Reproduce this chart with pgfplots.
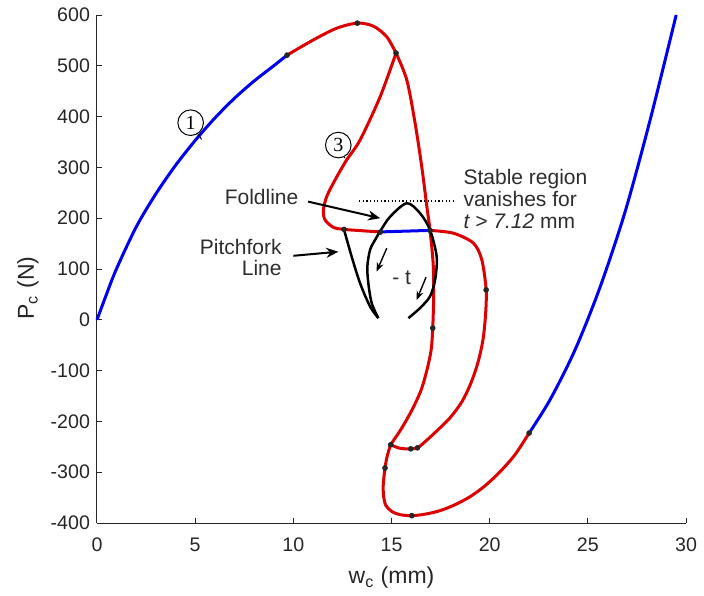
\documentclass[border=0pt]{standalone}
\usepackage{fontspec}
\setmainfont{Liberation Sans}
\newfontfamily\serifnum{Liberation Serif}
\usepackage{pgfplots}
\pgfplotsset{compat=1.18}
\usetikzlibrary{arrows.meta}
\definecolor{cred}{RGB}{220,0,0}
\definecolor{cblue}{RGB}{0,0,240}
\definecolor{axgray}{RGB}{38,38,38}
\definecolor{txtgray}{RGB}{45,45,45}
\begin{document}
\begin{tikzpicture}
\begin{axis}[
 scale only axis, width=294.5pt, height=254pt,
 xmin=0, xmax=30, ymin=-400, ymax=600,
 clip=false,
 axis x line*=bottom, axis y line*=left,
 axis line style={axgray, line width=0.5pt, -},
 tick align=inside, major tick length=2.5pt,
 tick style={axgray, line width=0.5pt},
 xtick={0,5,...,30}, xticklabels={0,5,10,15,20,25,30},
 ytick={-400,-300,...,600},
 yticklabels={-400,-300,-200,-100,0,100,200,300,400,500,600},
 ticklabel style={font=\fontsize{9.8}{11}\selectfont, text=axgray},
 xticklabel style={yshift=-4pt},
 xlabel={w\textsubscript{c} (mm)}, ylabel={P\textsubscript{c} (N)},
 label style={font=\fontsize{11.5}{13}\selectfont, text=axgray},
 xlabel style={at={(rel axis cs:0.5,-0.1083)}, anchor=center},
 ylabel style={at={(rel axis cs:-0.1171,0.4626)}, anchor=center},
]
\coordinate (SW) at (rel axis cs:0,0);
\coordinate (NE) at (rel axis cs:1,1);
% blue branch 1
\addplot[cblue, line width=1.5pt, smooth] coordinates {
(0,0) (0.5,52) (1,101) (2,183) (3,248) (4,304) (5,353) (6,397) (7,436) (8,470) (9,500) (9.68,521)};
% red top arc
\addplot[cred, line width=1.5pt, smooth] coordinates {
(9.68,521) (11.02,551) (12.21,574) (13.26,584) (14.08,578) (14.76,557) (15.23,525)};
% red steep branch and bottom loop
\addplot[cred, line width=1.5pt, smooth] coordinates {
(15.23,525) (15.78,472) (16.2,387.5) (16.54,301.5) (16.8,223) (16.96,177) (17.12,111.5) (17.15,50) (17.1,-16) (17.02,-59) (16.81,-98) (16.51,-138) (16.05,-177) (15.54,-212) (15.13,-236) (14.96,-246) (14.77,-270) (14.67,-291.7) (14.58,-324.6) (14.6,-348.2) (14.72,-365.9) (15.03,-377.7) (15.44,-383.6) (16.03,-385.5) (16.71,-382.6) (17.47,-375.7) (18.24,-363.9) (19.0,-348.2) (19.77,-326.5) (20.53,-299) (21.29,-265.5) (22.01,-222.9)};
% red branch 3
\addplot[cred, line width=1.5pt, smooth] coordinates {
(15.23,525) (14.42,439) (13.4,354) (12.72,315) (12.12,275) (11.7,242.5) (11.53,216) (11.61,197) (12.04,182) (12.58,178) (13.4,175.6) (14.42,173)};
% blue short segment
\addplot[cblue, line width=1.5pt] coordinates {(14.42,173) (16.96,176)};
% red right loop
\addplot[cred, line width=1.5pt, smooth] coordinates {
(16.96,176) (18.15,170.5) (19.17,151) (19.6,118) (19.82,59) (19.79,10) (19.66,-39) (19.41,-83) (19.05,-124) (18.59,-161) (17.98,-193) (17.27,-220) (16.71,-240) (16.32,-252) (15.98,-254) (15.44,-253) (14.96,-246)};
% blue last branch
\addplot[cblue, line width=1.5pt, smooth] coordinates {
(22.01,-222.9) (23.08,-157) (24.35,-59) (25.62,64) (26.9,213) (28.17,393) (29.5,600)};
% foldline
\addplot[black, line width=1.25pt, smooth] coordinates {
(14.33,3.3) (13.99,33) (13.82,72) (13.77,105) (13.91,138) (14.16,157) (14.42,174) (14.93,203) (15.78,229.5) (16.45,210) (16.96,177) (17.3,124.5) (17.22,78.7) (16.96,46) (16.45,23) (15.86,3.3)};
% pitchfork line
\addplot[black, line width=1.25pt, smooth] coordinates {
(12.58,178) (12.97,124.5) (13.4,72) (13.91,26) (14.33,3.3)};
% points
\addplot[only marks, mark=*, mark size=1.2pt, black!85] coordinates {
(9.68,521) (13.26,584) (15.23,525) (12.58,178) (14.42,172.5) (16.96,176) (17.1,-16.3) (19.82,59) (14.96,-246) (15.98,-254) (16.32,-252) (14.67,-291.6) (16.03,-385.5) (22.01,-222.9)};
% annotations
\draw[black, line width=0.6pt, dash pattern=on 0.6pt off 1.2pt] (axis cs:13.35,234) -- (axis cs:18.15,234);
\draw[black, line width=1pt, -{Stealth[length=6pt,width=5pt]}] (axis cs:10.75,232.7) -- (axis cs:14.42,200);
\draw[black, line width=1pt, -{Stealth[length=6pt,width=5pt]}] (axis cs:10,126) -- (axis cs:12.29,134);
\draw[black, line width=0.7pt, -{Stealth[length=4.5pt,width=3.5pt]}] (axis cs:14.76,141) -- (axis cs:14.24,95);
\draw[black, line width=0.7pt, -{Stealth[length=4.5pt,width=3.5pt]}] (axis cs:16.76,84) -- (axis cs:16.28,39);
\node[font=\fontsize{10.5}{11.2}\selectfont, text=txtgray, inner sep=0] at (axis cs:15.52,82) {- t};
\node[font=\fontsize{10.5}{11.2}\selectfont, text=txtgray, inner sep=0] at (axis cs:8.38,242) {Foldline};
\node[font=\fontsize{10.5}{10.8}\selectfont, text=txtgray, inner sep=0, anchor=east, align=right] at (axis cs:9.42,123) {Pitchfork\\Line};
\node[font=\fontsize{10.5}{11.2}\selectfont, text=txtgray, inner sep=0, anchor=west, align=left] at (axis cs:18.65,238) {Stable region\\vanishes for\\\textit{t > 7.12} mm};
\node[circle, draw=black, line width=0.5pt, minimum size=12.8pt, inner sep=0, fill=white, font=\serifnum\fontsize{10}{10}\selectfont] (c1) at (axis cs:4.77,388) {1};
\draw[black, line width=0.5pt] (c1) -- (axis cs:5.33,355);
\node[circle, draw=black, line width=0.5pt, minimum size=12.8pt, inner sep=0, fill=white, font=\serifnum\fontsize{10}{10}\selectfont] (c3) at (axis cs:12.29,344) {3};
\draw[black, line width=0.5pt] (c3) -- (axis cs:12.63,318);
\end{axis}
\pgfresetboundingbox
\path ([shift={(-48.5pt,-36pt)}]SW) rectangle ([shift={(9pt,7.5pt)}]NE);
\end{tikzpicture}
\end{document}
